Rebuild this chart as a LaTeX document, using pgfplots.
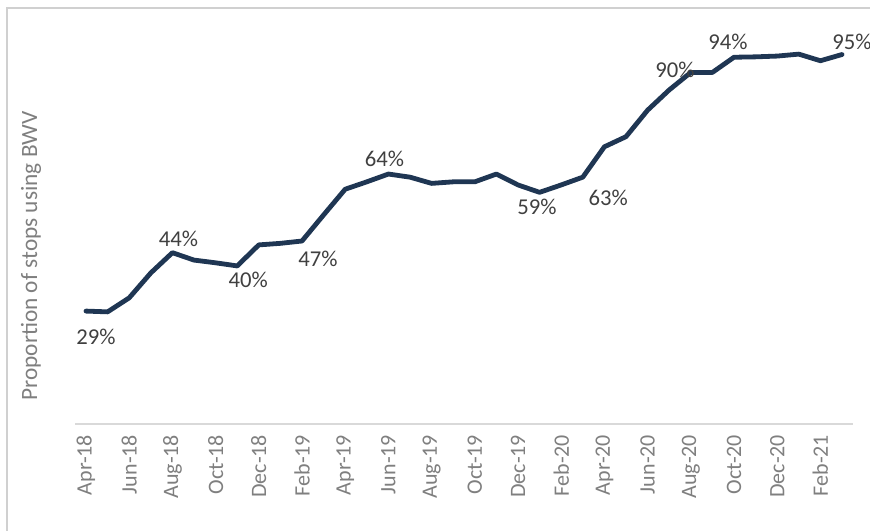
\documentclass[border=0pt]{standalone}
\usepackage{pgfplots}
\pgfplotsset{compat=1.18}
\usepackage{pgfplotstable}
\usepackage{fontspec}
\setmainfont{Carlito}
\definecolor{navy}{HTML}{1F3653}
\definecolor{lbl}{HTML}{404040}
\definecolor{tick}{HTML}{7F7F7F}
\definecolor{base}{HTML}{D9D9D9}
\definecolor{frame}{HTML}{D0D0D0}

\pgfplotstableread{
x y
0 29.0
1 28.8
2 32.4
3 38.8
4 44.0
5 42.1
6 41.4
7 40.6
8 46.0
9 46.4
10 47.0
11 53.7
12 60.3
13 62.2
14 64.2
15 63.4
16 61.8
17 62.2
18 62.2
19 64.2
20 61.4
21 59.5
22 61.4
23 63.4
24 71.2
25 73.8
26 80.6
27 85.8
28 90.3
29 90.3
30 94.2
31 94.3
32 94.5
33 95.0
34 93.3
35 94.9
}\series

\pgfplotstableread{
x y lab dx dy
0 29.0 29 7.5 -19.5
4 44.0 44 4.5 10.5
7 40.6 40 8.25 -10.5
10 47.0 47 12 -13.5
14 64.2 64 -3 11.25
21 59.5 59 -2 -10.7
23 63.4 63 19 -15.75
28 90.3 90 -11.9 1.7
30 94.2 94 -4.5 11.5
35 94.9 95 7.5 9.75
}\labels

\begin{document}
\begin{tikzpicture}
\path[use as bounding box] (-56.4pt,-80.25pt) rectangle (596.1pt,318pt);
\draw[frame, line width=1.2pt] (-51.15pt,-80.25pt) -- (-51.15pt,312pt) -- (596.1pt,312pt);
\begin{axis}[
  at={(0pt,0pt)}, anchor=south west,
  scale only axis,
  width=583.2pt, height=292pt,
  xmin=-0.5, xmax=35.5,
  ymin=0, ymax=100,
  axis x line*=bottom,
  axis y line=none,
  x axis line style={base, line width=1.5pt, -},
  xtick={0,2,...,34},
  xticklabels={Apr-18,Jun-18,Aug-18,Oct-18,Dec-18,Feb-19,Apr-19,Jun-19,Aug-19,Oct-19,Dec-19,Feb-20,Apr-20,Jun-20,Aug-20,Oct-20,Dec-20,Feb-21},
  major tick length=0pt,
  xticklabel style={rotate=90, anchor=east, text=tick, font=\fontsize{16.5}{19}\selectfont, inner sep=0pt, xshift=-8pt},
  clip=false,
]
\addplot[navy, line width=3.6pt, line join=round, line cap=round, mark=none] table[x=x,y=y] {\series};
\addplot[draw=none, mark=none,
  point meta=explicit,
  visualization depends on={\thisrow{dx}\as\dx},
  visualization depends on={\thisrow{dy}\as\dy},
  nodes near coords={\pgfmathprintnumber[fixed,precision=0,assume math mode=true]{\pgfplotspointmeta}\%},
  every node near coord/.append style={anchor=center, xshift=\dx pt, yshift=\dy pt, text=lbl, font=\fontsize{17}{20}\selectfont, inner sep=0pt},
] table[x=x,y=y,meta=lab] {\labels};
\end{axis}
\node[rotate=90, text=tick, font=\fontsize{17.5}{20}\selectfont] at (-33.15pt,126pt) {Proportion of stops using BWV};
\end{tikzpicture}
\end{document}
